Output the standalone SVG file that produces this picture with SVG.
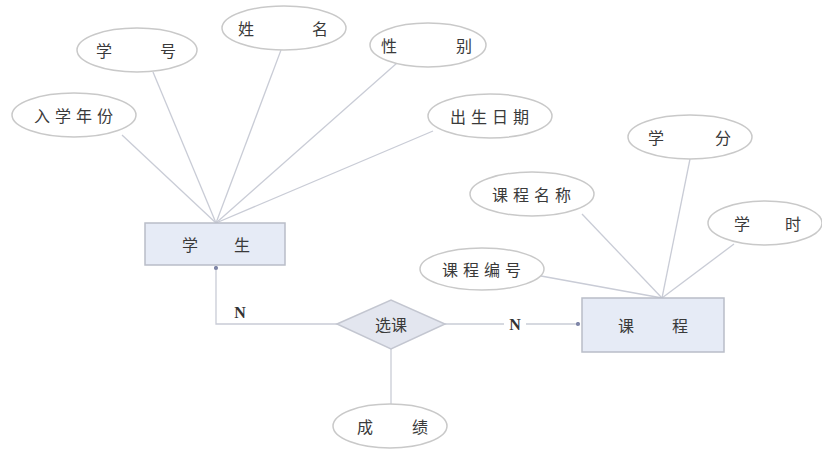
<svg xmlns="http://www.w3.org/2000/svg" width="822" height="454" viewBox="0 0 822 454">
<style>
.bg{fill:#ffffff}
.attr ellipse{fill:#ffffff;stroke:#c9c9c9;stroke-width:1.5}
.ent rect{fill:#e6ebf6;stroke:#b9bdc8;stroke-width:1.5}
.rel polygon{fill:#e3e6ef;stroke:#c3c6d0;stroke-width:1.5}
text{font-family:"Noto Sans CJK SC","Liberation Serif",serif;font-size:16px;fill:#3a3a3a;text-anchor:middle;dominant-baseline:central}
.sp{letter-spacing:5px}
.lbl{font-family:"Liberation Serif",serif;font-size:16px;font-weight:bold;fill:#333}
#connectors line,#connectors polyline{stroke:#c9ccd6;stroke-width:1.3;fill:none}
</style>
<defs>
<marker id="dot" viewBox="0 0 6 6" refX="3" refY="3" markerWidth="5" markerHeight="5" markerUnits="userSpaceOnUse">
<circle cx="3" cy="3" r="2.5" fill="#7f86a8"/>
</marker>
</defs>
<rect class="bg" width="822" height="454"/>
<g id="connectors">
<line x1="216" y1="223" x2="122" y2="135"/>
<line x1="216" y1="223" x2="153" y2="72"/>
<line x1="216" y1="223" x2="281" y2="50"/>
<line x1="216" y1="223" x2="397" y2="63"/>
<line x1="216" y1="223" x2="433" y2="131"/>
<line x1="662" y1="298" x2="690" y2="159"/>
<line x1="662" y1="298" x2="582" y2="214"/>
<line x1="662" y1="298" x2="734" y2="244"/>
<line x1="662" y1="298" x2="541" y2="276"/>
<polyline points="337,324 216,324 216,268" marker-end="url(#dot)"/>
<line x1="445" y1="324" x2="578" y2="324" marker-end="url(#dot)"/>
<line x1="391" y1="349" x2="391" y2="404"/>
<rect x="504" y="315" width="22" height="18" fill="#ffffff"/>
<text class="lbl" x="240" y="312">N</text>
<text class="lbl" x="515" y="324">N</text>
</g>
<g id="attr-xuehao" class="attr"><ellipse cx="137" cy="50" rx="60" ry="22"/><text><tspan x="104" y="50">学</tspan><tspan x="168" y="50">号</tspan></text></g>
<g id="attr-xingming" class="attr"><ellipse cx="284" cy="28" rx="62" ry="22"/><text><tspan x="246" y="28">姓</tspan><tspan x="320" y="28">名</tspan></text></g>
<g id="attr-xingbie" class="attr"><ellipse cx="428" cy="45" rx="58" ry="22"/><text><tspan x="389" y="45">性</tspan><tspan x="464" y="45">别</tspan></text></g>
<g id="attr-ruxuenianfen" class="attr"><ellipse cx="74" cy="115" rx="62" ry="22"/><text class="sp" x="76" y="115">入学年份</text></g>
<g id="attr-chushengriqi" class="attr"><ellipse cx="490" cy="116" rx="62" ry="22"/><text class="sp" x="492" y="116">出生日期</text></g>
<g id="attr-xuefen" class="attr"><ellipse cx="690" cy="137" rx="62" ry="22"/><text><tspan x="656" y="137">学</tspan><tspan x="723" y="137">分</tspan></text></g>
<g id="attr-kechengmingcheng" class="attr"><ellipse cx="532" cy="194" rx="62" ry="22"/><text class="sp" x="534" y="194">课程名称</text></g>
<g id="attr-xueshi" class="attr"><ellipse cx="765" cy="223" rx="57" ry="22"/><text><tspan x="742" y="223">学</tspan><tspan x="793" y="223">时</tspan></text></g>
<g id="attr-kechengbianhao" class="attr"><ellipse cx="482" cy="269" rx="62" ry="21"/><text class="sp" x="484" y="269">课程编号</text></g>
<g id="attr-chengji" class="attr"><ellipse cx="390" cy="426" rx="57" ry="22"/><text><tspan x="365" y="426">成</tspan><tspan x="420" y="426">绩</tspan></text></g>
<g id="ent-xuesheng" class="ent"><rect x="145" y="223" width="140" height="42"/><text><tspan x="190" y="244">学</tspan><tspan x="242" y="244">生</tspan></text></g>
<g id="ent-kecheng" class="ent"><rect x="582" y="298" width="142" height="54"/><text><tspan x="626" y="325">课</tspan><tspan x="680" y="325">程</tspan></text></g>
<g id="rel-xuanke" class="rel"><polygon points="337,324 391,300 445,324 391,349"/><text x="391" y="324">选课</text></g>
</svg>
